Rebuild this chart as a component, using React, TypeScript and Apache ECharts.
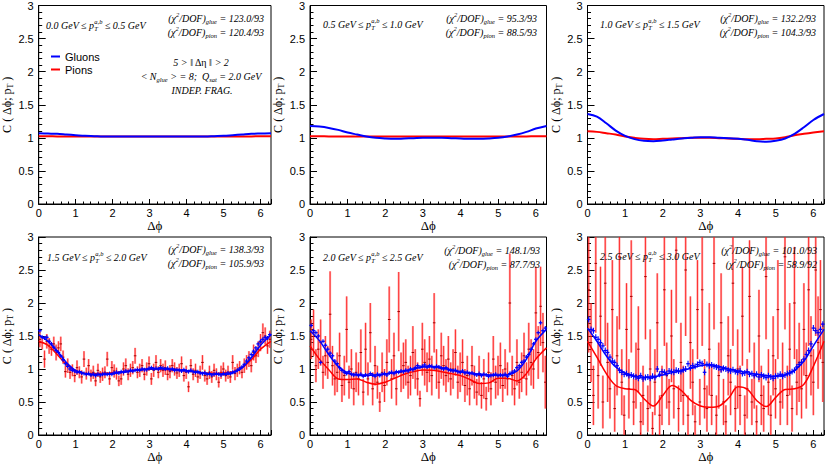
import React, { useEffect, useRef } from 'react';
import * as echarts from 'echarts';

const TWO_PI = 6.283185;
const N_BINS = 100;
const BIN_CENTERS = Array.from({ length: N_BINS }, (_, i) => (i + 0.5) * TWO_PI / N_BINS);

const FIT_X = [0, 0.25, 0.5, 0.75, 1.0, 1.25, 1.5, 1.75, 2.0, 2.25, 2.5, 2.75, 3.0, 3.25, 3.5, 3.75, 4.0, 4.25, 4.5, 4.75, 5.0, 5.25, 5.5, 5.75, 6.0, 6.283];

const PT_LO = ['0.0', '0.5', '1.0', '1.5', '2.0', '2.5'];
const PT_HI = ['0.5', '1.0', '1.5', '2.0', '2.5', '3.0'];
const CHI_GLUE = ['123.0/93', '95.3/93', '132.2/93', '138.3/93', '148.1/93', '101.0/93'];
const CHI_PION = ['120.4/93', '88.5/93', '104.3/93', '105.9/93', '87.7/93', '58.9/92'];
const X_TICKS = [0, 1, 2, 3, 4, 5, 6];

// fitted curves (gluons = blue, pions = red)
const P1_BLUE_FIT = [1.07, 1.065, 1.06, 1.05, 1.04, 1.03, 1.025, 1.02, 1.02, 1.02, 1.02, 1.02, 1.02, 1.02, 1.02, 1.02, 1.02, 1.02, 1.02, 1.025, 1.03, 1.04, 1.05, 1.06, 1.065, 1.07];
const P1_RED_FIT = [1.025, 1.024, 1.022, 1.02, 1.02, 1.02, 1.02, 1.02, 1.02, 1.02, 1.02, 1.02, 1.02, 1.02, 1.02, 1.02, 1.02, 1.02, 1.02, 1.02, 1.02, 1.02, 1.02, 1.022, 1.024, 1.025];
const P2_BLUE_FIT = [1.18, 1.17, 1.15, 1.12, 1.08, 1.05, 1.02, 1.0, 0.99, 0.985, 0.99, 0.995, 1.0, 1.0, 1.0, 0.995, 0.99, 0.985, 0.985, 0.99, 1.0, 1.02, 1.05, 1.09, 1.14, 1.18];
const P2_RED_FIT = [1.025, 1.024, 1.022, 1.02, 1.02, 1.02, 1.02, 1.02, 1.02, 1.02, 1.02, 1.02, 1.02, 1.02, 1.02, 1.02, 1.02, 1.02, 1.02, 1.02, 1.02, 1.02, 1.02, 1.022, 1.024, 1.025];
const P3_BLUE_FIT = [1.36, 1.32, 1.22, 1.11, 1.03, 0.98, 0.955, 0.95, 0.96, 0.975, 0.99, 1.0, 1.01, 1.01, 1.0, 0.995, 0.985, 0.97, 0.95, 0.94, 0.955, 0.99, 1.06, 1.16, 1.27, 1.36];
const P3_RED_FIT = [1.10, 1.09, 1.07, 1.05, 1.02, 1.0, 0.985, 0.98, 0.985, 0.99, 0.995, 1.0, 1.0, 1.0, 0.995, 0.99, 0.985, 0.98, 0.98, 0.985, 0.99, 1.01, 1.04, 1.06, 1.08, 1.10];
const P4_BLUE_FIT = [1.52, 1.42, 1.27, 1.1, 0.98, 0.93, 0.915, 0.915, 0.93, 0.95, 0.97, 0.99, 1.0, 1.005, 1.0, 0.99, 0.975, 0.955, 0.935, 0.92, 0.92, 0.94, 1.02, 1.17, 1.36, 1.52];
const P4_RED_FIT = [1.42, 1.36, 1.22, 1.07, 0.97, 0.935, 0.93, 0.935, 0.945, 0.96, 0.975, 0.99, 0.995, 0.995, 0.99, 0.98, 0.97, 0.955, 0.94, 0.935, 0.94, 0.96, 1.02, 1.14, 1.3, 1.42];
const P5_BLUE_FIT = [1.58, 1.43, 1.22, 1.04, 0.94, 0.91, 0.905, 0.91, 0.925, 0.945, 0.97, 1.0, 1.03, 1.035, 1.02, 0.99, 0.96, 0.94, 0.92, 0.91, 0.905, 0.91, 0.97, 1.15, 1.42, 1.6];
const P5_RED_FIT = [1.35, 1.15, 0.99, 0.85, 0.84, 0.85, 0.8, 0.77, 0.8, 0.86, 0.92, 0.96, 0.985, 0.98, 0.96, 0.93, 0.9, 0.84, 0.78, 0.79, 0.86, 0.86, 0.82, 0.93, 1.15, 1.32];
const P6_BLUE_FIT = [1.62, 1.42, 1.2, 1.03, 0.94, 0.89, 0.875, 0.88, 0.91, 0.945, 0.975, 1.01, 1.05, 1.065, 1.04, 1.0, 0.97, 0.945, 0.92, 0.9, 0.89, 0.91, 0.98, 1.12, 1.35, 1.6];
const P6_RED_FIT = [1.42, 1.18, 0.93, 0.75, 0.7, 0.69, 0.55, 0.44, 0.6, 0.75, 0.67, 0.52, 0.44, 0.42, 0.44, 0.56, 0.73, 0.69, 0.52, 0.43, 0.57, 0.69, 0.7, 0.77, 1.04, 1.42];

// binned data, 100 bins over [0, 2pi]
const P4_BLUE = [
  1.58, 1.48, 1.47, 1.48, 1.42, 1.38, 1.33, 1.28, 1.25, 1.20,
  1.14, 1.08, 1.04, 1.00, 0.98, 0.97, 0.95, 0.96, 0.94, 0.93,
  0.92, 0.93, 0.91, 0.92, 0.90, 0.92, 0.91, 0.92, 0.93, 0.92,
  0.93, 0.92, 0.94, 0.95, 0.94, 0.96, 0.95, 0.97, 0.96, 0.98,
  0.97, 0.98, 0.99, 0.98, 1.00, 0.99, 0.99, 1.01, 1.02, 1.00,
  1.01, 1.00, 1.02, 1.01, 1.00, 1.01, 0.99, 1.00, 0.98, 0.99,
  0.98, 0.97, 0.99, 0.97, 0.96, 0.98, 0.96, 0.95, 0.96, 0.94,
  0.93, 0.94, 0.92, 0.93, 0.91, 0.92, 0.93, 0.92, 0.91, 0.93,
  0.92, 0.94, 0.93, 0.95, 0.96, 0.98, 1.00, 1.03, 1.07, 1.12,
  1.17, 1.22, 1.27, 1.32, 1.38, 1.42, 1.45, 1.48, 1.47, 1.52,
];
const P4_RED = [
  1.45, 1.40, 1.15, 1.42, 1.35, 1.30, 1.38, 1.25, 1.32, 1.38,
  1.18, 0.96, 1.05, 0.95, 0.98, 0.90, 1.02, 0.95, 0.88, 1.15,
  0.93, 1.05, 0.90, 0.95, 0.82, 0.98, 0.88, 0.92, 0.95, 1.15,
  0.85, 1.02, 0.97, 0.93, 0.82, 0.85, 1.00, 1.05, 0.92, 0.98,
  1.02, 1.20, 0.95, 0.98, 1.05, 0.92, 1.00, 1.08, 0.85, 0.98,
  1.10, 0.95, 1.05, 0.98, 1.02, 0.92, 0.96, 1.05, 1.00, 0.94,
  0.98, 1.08, 0.90, 0.95, 0.73, 1.05, 0.92, 0.98, 0.88, 0.95,
  1.10, 0.90, 0.85, 0.95, 0.88, 0.98, 0.92, 0.80, 0.95, 1.00,
  0.90, 0.95, 0.88, 1.10, 0.93, 0.98, 1.02, 0.95, 1.05, 1.10,
  1.15, 1.05, 1.25, 1.20, 1.30, 1.40, 1.55, 1.50, 1.35, 1.45,
];
const P4_RED_ERR = [
  0.12, 0.10, 0.13, 0.11, 0.12, 0.10, 0.11, 0.12, 0.10, 0.11,
  0.10, 0.09, 0.11, 0.10, 0.09, 0.10, 0.11, 0.09, 0.10, 0.12,
  0.09, 0.10, 0.09, 0.10, 0.08, 0.10, 0.09, 0.10, 0.09, 0.11,
  0.09, 0.10, 0.10, 0.09, 0.08, 0.09, 0.10, 0.11, 0.09, 0.10,
  0.10, 0.12, 0.09, 0.10, 0.10, 0.09, 0.10, 0.11, 0.09, 0.10,
  0.11, 0.09, 0.10, 0.10, 0.11, 0.09, 0.10, 0.10, 0.10, 0.09,
  0.10, 0.11, 0.09, 0.10, 0.08, 0.10, 0.09, 0.10, 0.09, 0.10,
  0.11, 0.09, 0.09, 0.10, 0.09, 0.10, 0.09, 0.08, 0.10, 0.10,
  0.09, 0.10, 0.09, 0.11, 0.10, 0.10, 0.10, 0.09, 0.11, 0.11,
  0.12, 0.10, 0.12, 0.11, 0.12, 0.13, 0.14, 0.13, 0.12, 0.13,
];
const P5_BLUE = [
  1.66, 1.58, 1.55, 1.50, 1.10, 1.42, 1.36, 1.30, 1.24, 1.20,
  1.12, 1.08, 1.02, 0.98, 0.95, 0.93, 0.96, 0.92, 0.91, 0.92,
  0.90, 0.92, 0.89, 0.91, 0.90, 0.93, 0.91, 0.89, 0.92, 0.90,
  0.92, 0.93, 0.91, 0.94, 0.95, 0.93, 0.96, 0.95, 0.97, 0.96,
  0.98, 0.97, 1.00, 0.99, 1.02, 1.05, 1.03, 1.04, 1.06, 1.03,
  1.05, 1.04, 1.02, 1.04, 1.03, 1.01, 1.00, 1.02, 0.99, 0.98,
  0.97, 0.98, 0.96, 0.95, 0.97, 0.94, 0.95, 0.93, 0.94, 0.92,
  0.91, 0.93, 0.90, 0.92, 0.91, 0.89, 0.90, 0.91, 0.92, 0.90,
  0.91, 0.90, 0.92, 0.89, 0.93, 0.95, 0.97, 1.02, 1.05, 1.10,
  1.12, 1.18, 1.22, 1.30, 1.38, 1.45, 1.55, 1.70, 1.58, 1.62,
];
const P5_RED = [
  1.45, 1.55, 1.05, 1.30, 1.40, 0.95, 1.20, 1.10, 1.83, 1.05,
  0.85, 0.95, 1.20, 0.75, 0.90, 1.60, 0.80, 1.00, 0.70, 0.95,
  0.85, 1.25, 0.65, 1.30, 0.85, 1.55, 0.70, 1.05, 0.80, 0.50,
  0.95, 0.75, 1.10, 1.75, 0.85, 1.20, 0.70, 1.87, 0.95, 1.05,
  1.10, 0.80, 0.90, 1.25, 1.00, 0.85, 0.55, 1.30, 1.10, 0.95,
  1.15, 0.90, 1.70, 1.00, 0.80, 1.20, 1.05, 0.90, 1.15, 0.85,
  1.00, 1.25, 0.80, 0.95, 1.10, 0.75, 0.90, 0.70, 1.05, 0.80,
  0.65, 0.90, 0.60, 0.85, 0.55, 0.95, 0.70, 1.15, 0.80, 0.90,
  1.05, 0.75, 1.00, 0.85, 2.00, 0.90, 0.70, 1.10, 0.80, 0.95,
  1.20, 0.85, 1.30, 1.10, 1.00, 1.85, 1.25, 1.95, 1.40, 0.80,
];
const P5_RED_ERR = [
  0.30, 0.35, 0.25, 0.30, 0.35, 0.25, 0.30, 0.25, 0.65, 0.30,
  0.25, 0.30, 0.35, 0.25, 0.30, 0.50, 0.25, 0.30, 0.25, 0.30,
  0.25, 0.35, 0.20, 0.40, 0.25, 0.45, 0.25, 0.30, 0.25, 0.15,
  0.30, 0.25, 0.35, 0.50, 0.30, 0.35, 0.25, 0.60, 0.30, 0.35,
  0.35, 0.25, 0.30, 0.40, 0.30, 0.25, 0.12, 0.40, 0.35, 0.30,
  0.35, 0.30, 0.45, 0.30, 0.25, 0.35, 0.30, 0.25, 0.35, 0.25,
  0.30, 0.35, 0.25, 0.30, 0.35, 0.25, 0.30, 0.25, 0.30, 0.25,
  0.20, 0.30, 0.20, 0.30, 0.18, 0.30, 0.25, 0.35, 0.25, 0.30,
  0.35, 0.25, 0.30, 0.25, 0.75, 0.30, 0.25, 0.35, 0.25, 0.30,
  0.35, 0.25, 0.40, 0.35, 0.30, 0.70, 0.40, 0.60, 0.45, 0.40,
];
const P6_BLUE = [
  1.75, 1.60, 1.58, 1.48, 1.45, 1.40, 1.35, 1.28, 1.25, 1.18,
  1.12, 1.10, 1.05, 0.98, 0.95, 0.92, 0.93, 0.90, 0.91, 0.89,
  0.88, 0.86, 0.90, 0.85, 0.87, 0.88, 0.86, 0.89, 0.87, 1.00,
  0.92, 0.96, 0.95, 0.93, 0.97, 0.96, 0.95, 0.98, 0.97, 0.96,
  0.99, 1.00, 1.08, 1.02, 1.05, 1.04, 1.07, 1.10, 1.08, 0.95,
  1.07, 1.05, 1.06, 1.04, 1.03, 1.02, 0.99, 1.01, 1.00, 0.98,
  0.97, 0.99, 0.96, 0.95, 0.97, 0.93, 0.94, 0.96, 0.92, 0.93,
  0.90, 0.92, 0.88, 0.91, 0.89, 0.87, 0.90, 0.88, 0.86, 0.89,
  0.90, 0.92, 0.89, 0.91, 0.93, 0.94, 0.96, 0.98, 1.03, 1.07,
  1.10, 1.15, 1.22, 1.28, 1.38, 1.62, 1.58, 1.55, 1.60, 1.68,
];
const P6_RED = [
  2.20, 1.40, 0.60, 2.60, 0.90, 1.80, 0.50, 2.30, 1.10, 0.70,
  1.90, 0.40, 1.20, 2.70, 0.80, 0.30, 1.60, 0.70, 2.10, 0.50,
  0.90, 1.30, 0.20, 0.60, 2.40, 0.40, 1.00, 0.10, 0.80, 1.70,
  0.30, 0.60, 2.20, 0.90, 0.50, 1.50, 0.70, 2.80, 0.40, 1.10,
  0.60, 2.50, 0.30, 1.40, 0.80, 0.20, 1.90, 0.50, 2.20, 0.70,
  0.40, 1.30, 0.60, 2.60, 0.30, 0.90, 1.70, 0.50, 0.20, 1.20,
  0.80, 2.30, 0.40, 1.00, 0.60, 1.80, 0.30, 0.70, 2.10, 0.50,
  0.90, 0.20, 1.50, 0.60, 0.40, 2.40, 0.80, 0.30, 1.20, 0.70,
  1.90, 0.50, 0.90, 2.70, 0.60, 1.30, 0.40, 2.00, 0.80, 1.10,
  0.70, 1.60, 0.90, 2.20, 1.20, 0.80, 2.50, 1.40, 1.90, 1.10,
];
const P6_RED_ERR = [
  0.95, 0.60, 0.45, 1.05, 0.50, 0.75, 0.40, 0.95, 0.60, 0.45,
  0.75, 0.35, 0.60, 1.10, 0.50, 0.30, 0.70, 0.45, 0.85, 0.35,
  0.50, 0.65, 0.30, 0.45, 0.95, 0.35, 0.60, 0.25, 0.50, 0.75,
  0.30, 0.45, 0.85, 0.50, 0.35, 0.70, 0.45, 1.10, 0.35, 0.60,
  0.45, 1.00, 0.30, 0.70, 0.50, 0.25, 0.75, 0.35, 0.85, 0.45,
  0.35, 0.70, 0.45, 1.00, 0.30, 0.50, 0.75, 0.35, 0.25, 0.60,
  0.50, 0.95, 0.35, 0.60, 0.45, 0.75, 0.30, 0.45, 0.85, 0.35,
  0.50, 0.25, 0.70, 0.45, 0.35, 0.95, 0.50, 0.30, 0.60, 0.45,
  0.75, 0.35, 0.50, 1.10, 0.45, 0.70, 0.35, 0.85, 0.50, 0.60,
  0.45, 0.70, 0.50, 0.85, 0.60, 0.50, 1.00, 0.70, 0.75, 0.60,
];
const P4_BLUE_ERR = 0.025;
const P5_BLUE_ERR = 0.03;
const P6_BLUE_ERR = 0.045;

type Panel = {
  blueFit: number[];
  redFit: number[];
  blue?: number[];
  blueErr?: number;
  red?: number[];
  redErr?: number[];
};

const PANELS: Panel[] = [
  { blueFit: P1_BLUE_FIT, redFit: P1_RED_FIT },
  { blueFit: P2_BLUE_FIT, redFit: P2_RED_FIT },
  { blueFit: P3_BLUE_FIT, redFit: P3_RED_FIT },
  { blueFit: P4_BLUE_FIT, redFit: P4_RED_FIT, blue: P4_BLUE, blueErr: P4_BLUE_ERR, red: P4_RED, redErr: P4_RED_ERR },
  { blueFit: P5_BLUE_FIT, redFit: P5_RED_FIT, blue: P5_BLUE, blueErr: P5_BLUE_ERR, red: P5_RED, redErr: P5_RED_ERR },
  { blueFit: P6_BLUE_FIT, redFit: P6_RED_FIT, blue: P6_BLUE, blueErr: P6_BLUE_ERR, red: P6_RED, redErr: P6_RED_ERR },
];

const SANS = '"Liberation Sans", Arial, Helvetica, sans-serif';
const SERIF = '"Liberation Serif", "Times New Roman", serif';
const BLUE = '#0000ff';
const RED = '#ff0000';

// layout
const COL_LEFT = [34.5, 310, 587.5];
const COL_W = 236.5;
const ROW_TOP = [5, 237];
const ROW_H = [199, 198];
const PT_POS = [[46, 25], [323, 24], [600, 24], [47, 257], [323, 257], [600, 256]];
const CHI_POS = [[264, 18], [537, 18], [816, 18], [264, 249], [540, 250], [817, 250]];

const FS = 10;
const RICH: any = {
  n: { fontFamily: SERIF, fontSize: FS, fontStyle: 'italic', fill: '#000', color: '#000' },
  r: { fontFamily: SERIF, fontSize: FS, fill: '#000', color: '#000' },
  s: { fontFamily: SERIF, fontSize: 6.5, fontStyle: 'italic', fill: '#000', color: '#000', padding: [7, 0, 0, 0] },
  s0: { fontFamily: SERIF, fontSize: 6.5, fontStyle: 'italic', fill: '#000', color: '#000', padding: [7, 0, 0, 0], width: 0 },
  u: { fontFamily: SERIF, fontSize: 6.5, fontStyle: 'italic', fill: '#000', color: '#000', padding: [0, 0, 7, 0] },
};

function ptText(lo: string, hi: string) {
  return `{n|${lo} GeV ≤ p}{s0|T}{u|a,b}{n| ≤ ${hi} GeV}`;
}
function chiText(sub: string, val: string) {
  return `{n|(χ}{u|2}{n|/DOF)}{s|${sub}}{n| = ${val}}`;
}

function textEl(text: string, x: number, y: number, align: string) {
  return {
    type: 'text',
    x,
    y,
    z: 50,
    style: {
      text,
      align,
      textAlign: align,
      verticalAlign: 'middle',
      textVerticalAlign: 'middle',
      rich: RICH,
      font: `italic ${FS}px ${SERIF}`,
      fill: '#000',
    },
  };
}

function renderRed(params: any, api: any) {
  const x = api.value(0);
  const y = api.value(1);
  const e = api.value(2);
  const c = api.coord([x, y]);
  const top = api.coord([x, y + e])[1];
  const bot = api.coord([x, y - e])[1];
  const cs = params.coordSys;
  const yTop = Math.max(top, cs.y);
  const yBot = Math.min(bot, cs.y + cs.height);
  const w = 2.1;
  const children: any[] = [];
  if (yBot > yTop) {
    children.push({ type: 'rect', shape: { x: c[0] - w / 2, y: yTop, width: w, height: yBot - yTop }, style: { fill: 'rgba(255,70,70,0.5)' } });
    children.push({ type: 'line', shape: { x1: c[0], y1: yTop, x2: c[0], y2: yBot }, style: { stroke: RED, lineWidth: 0.7 } });
  }
  if (c[1] >= cs.y && c[1] <= cs.y + cs.height) {
    children.push({ type: 'line', shape: { x1: c[0] - 1.3, y1: c[1], x2: c[0] + 1.3, y2: c[1] }, style: { stroke: '#a00000', lineWidth: 1 } });
  }
  return { type: 'group', children };
}

function renderBlue(params: any, api: any) {
  const x = api.value(0);
  const y = api.value(1);
  const e = api.value(2);
  const c = api.coord([x, y]);
  const top = api.coord([x, y + e])[1];
  const bot = api.coord([x, y - e])[1];
  const h = Math.max((bot - top) / 2, 2);
  return {
    type: 'group',
    children: [
      { type: 'line', shape: { x1: c[0], y1: c[1] - h, x2: c[0], y2: c[1] + h }, style: { stroke: BLUE, lineWidth: 1.1 } },
      { type: 'line', shape: { x1: c[0] - 1.8, y1: c[1], x2: c[0] + 1.8, y2: c[1] }, style: { stroke: BLUE, lineWidth: 1.3 } },
    ],
  };
}

function buildOption() {
  const grid: any[] = [];
  const xAxis: any[] = [];
  const yAxis: any[] = [];
  const series: any[] = [];
  const graphic: any[] = [];

  PANELS.forEach((panel, p) => {
    const col = p % 3;
    const row = Math.floor(p / 3);
    grid.push({
      left: COL_LEFT[col], top: ROW_TOP[row], width: COL_W, height: ROW_H[row],
      show: true, borderColor: '#000', borderWidth: 1, backgroundColor: 'transparent',
    });
    xAxis.push({
      gridIndex: p, type: 'value', min: 0, max: TWO_PI, interval: 1,
      axisLine: { show: true, onZero: false, lineStyle: { color: '#000', width: 1 } },
      axisTick: { show: true, inside: true, length: 5, lineStyle: { color: '#000', width: 1 } },
      minorTick: { show: true, splitNumber: 5, length: 2.5, lineStyle: { color: '#000', width: 1 } },
      splitLine: { show: false },
      axisLabel: {
        color: '#000', fontSize: 11, fontFamily: SANS, margin: 3, showMaxLabel: false,
        formatter: (v: number) => (X_TICKS.indexOf(v) >= 0 ? String(v) : ''),
      },
      name: 'Δϕ', nameLocation: 'middle', nameGap: 10,
      nameTextStyle: { fontFamily: SERIF, fontSize: 13, color: '#000' },
    });
    yAxis.push({
      gridIndex: p, type: 'value', min: 0, max: 3, interval: 0.5,
      axisLine: { show: true, onZero: false, lineStyle: { color: '#000', width: 1 } },
      axisTick: { show: true, inside: true, length: 7, lineStyle: { color: '#000', width: 1 } },
      minorTick: { show: true, splitNumber: 5, length: 3.5, lineStyle: { color: '#000', width: 1 } },
      splitLine: { show: false },
      axisLabel: { color: '#000', fontSize: 11, fontFamily: SANS, margin: 5 },
      name: 'C ( Δϕ; p{s|T} )', nameLocation: 'middle', nameGap: 24, nameRotate: 90,
      nameTextStyle: {
        fontFamily: SERIF, fontSize: 12, color: '#000',
        rich: { s: { fontFamily: SERIF, fontSize: 8, color: '#000', padding: [7, 0, 0, 0] } },
      },
    });

    const lw = row === 0 ? 2 : 1.5;
    if (panel.red && panel.redErr) {
      const redErr = panel.redErr;
      series.push({
        type: 'custom', name: 'Pions data', xAxisIndex: p, yAxisIndex: p,
        renderItem: renderRed, color: RED,
        data: BIN_CENTERS.map((x, i) => [x, panel.red![i], redErr[i]]),
        z: 2,
      });
    }
    series.push({
      type: 'line', name: 'Pions', xAxisIndex: p, yAxisIndex: p, color: RED,
      data: FIT_X.map((x, i) => [x, panel.redFit[i]]),
      smooth: 0.35, showSymbol: false, symbol: 'none',
      lineStyle: { color: RED, width: lw }, itemStyle: { color: RED }, z: 3,
    });
    if (panel.blue) {
      const be = panel.blueErr || 0.03;
      series.push({
        type: 'custom', name: 'Gluons data', xAxisIndex: p, yAxisIndex: p,
        renderItem: renderBlue, color: BLUE,
        data: BIN_CENTERS.map((x, i) => [x, panel.blue![i], be]),
        z: 4,
      });
    }
    series.push({
      type: 'line', name: 'Gluons', xAxisIndex: p, yAxisIndex: p, color: BLUE,
      data: FIT_X.map((x, i) => [x, panel.blueFit[i]]),
      smooth: 0.35, showSymbol: false, symbol: 'none',
      lineStyle: { color: BLUE, width: lw }, itemStyle: { color: BLUE }, z: 5,
    });

    graphic.push(textEl(ptText(PT_LO[p], PT_HI[p]), PT_POS[p][0], PT_POS[p][1], 'left'));
    graphic.push(textEl(chiText('glue', CHI_GLUE[p]), CHI_POS[p][0], CHI_POS[p][1], 'right'));
    graphic.push(textEl(chiText('pion', CHI_PION[p]), CHI_POS[p][0], CHI_POS[p][1] + 14, 'right'));
  });

  graphic.push(textEl('{n|5 > }{r|‖ Δη ‖}{n| > 2}', 201, 62, 'center'));
  graphic.push(textEl('{n|< N}{s|glue}{n| > = 8;  Q}{s|sat}{n| = 2.0 GeV}', 201, 76, 'center'));
  graphic.push(textEl('{n|INDEP. FRAG.}', 202, 90, 'center'));

  return {
    animation: false,
    backgroundColor: '#fff',
    grid,
    xAxis,
    yAxis,
    series,
    graphic,
    legend: {
      data: ['Gluons', 'Pions'],
      left: 46, top: 46, orient: 'vertical',
      icon: 'rect', itemWidth: 9, itemHeight: 2, itemGap: 2,
      textStyle: { fontFamily: SANS, fontSize: 11, color: '#000' },
      selectedMode: false,
    },
  };
}

export default function App() {
  const ref = useRef<HTMLDivElement>(null);
  useEffect(() => {
    if (!ref.current) return;
    const chart = echarts.init(ref.current, undefined, { renderer: 'svg' });
    chart.setOption(buildOption() as any);
    return () => chart.dispose();
  }, []);
  return <div ref={ref} style={{ position: 'absolute', left: 0, top: 0, width: 830, height: 464 }} />;
}
